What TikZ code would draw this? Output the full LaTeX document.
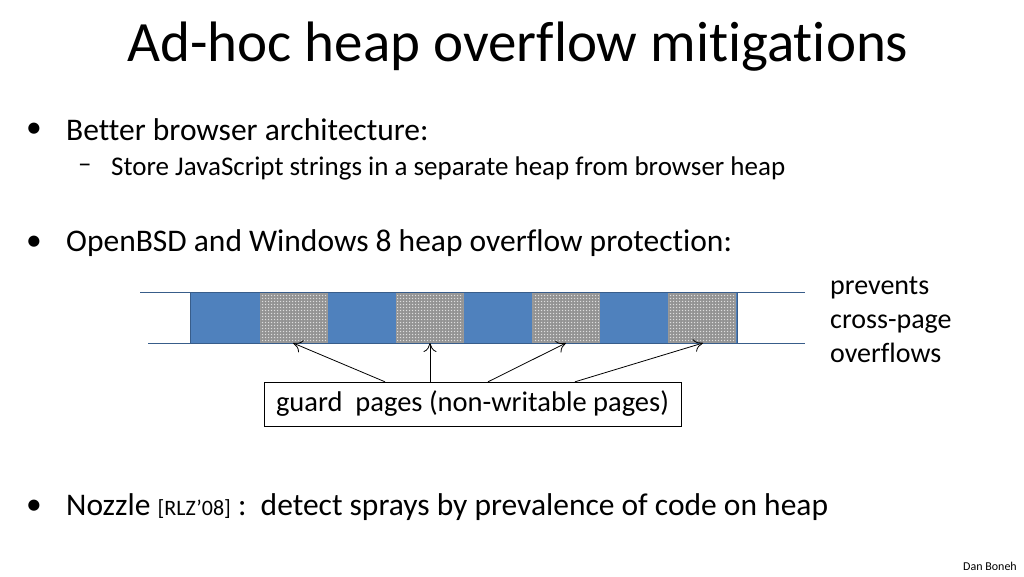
\documentclass[tikz,border=0pt]{standalone}
\usepackage{fontspec}
\setmainfont[RawFeature=-liga]{Carlito}
\usetikzlibrary{patterns,arrows.meta}
\definecolor{blk}{HTML}{4F81BD}
\definecolor{blkd}{HTML}{385D8A}
\begin{document}
\begin{tikzpicture}[x=1pt,y=-1pt,
  txt/.style={anchor=west,inner sep=0pt},
  arr/.style={-{To[length=9pt,width=13pt]},line width=0.8pt}]
\useasboundingbox (0,0) rectangle (1024,576);
\node[inner sep=0pt] (title) at (518,47) {\fontsize{57}{68}\selectfont Ad-hoc heap overflow mitigations};
\node[txt] (b1d) at (26,130) {\fontsize{31.5}{36}\selectfont •};
\node[txt] (b1) at (66,130) {\fontsize{31.5}{36}\selectfont Better browser architecture:};
\node[txt] (s1d) at (78,168) {\fontsize{27}{30}\selectfont –};
\node[txt] (s1) at (111,168) {\fontsize{27}{30}\selectfont Store JavaScript strings in a separate heap from browser heap};
\node[txt] (b2d) at (26,243) {\fontsize{31.5}{36}\selectfont •};
\node[txt] (b2) at (66,243) {\fontsize{31.5}{36}\selectfont OpenBSD and Windows 8 heap overflow protection:};
\node[txt] (b3d) at (26,507) {\fontsize{31.5}{36}\selectfont •};
\node[txt] (b3) at (66,507) {\fontsize{31.5}{36}\selectfont Nozzle {\fontsize{22}{25}\selectfont [RLZ’08]} :\ \ detect sprays by prevalence of code on heap};
\node[txt,align=left,font=\fontsize{28}{34}\selectfont] (prev) at (830,320) {prevents\\ cross-page\\ overflows};
\node[inner sep=0pt] (dan) at (990,566) {\fontsize{12}{14}\selectfont Dan Boneh};
% heap bar
\draw[blkd] (140,292) -- (805,292);
\draw[blkd] (148,343) -- (805,343);
\draw[blkd,fill=blk,line width=1pt] (190,292) rectangle (737,343);
\foreach \x/\n in {260/g1,396/g2,532/g3,668/g4}{
  \fill[gray!80] (\x,293) rectangle (\x+67,342);
  \fill[pattern=crosshatch dots,pattern color=white!85!gray] (\x,293) rectangle (\x+67,342);
  \fill[pattern=dots,pattern color=black!80] (\x,293) rectangle (\x+67,342);
  \draw[gray!80] (\x,293) rectangle (\x+67,342);
}
\coordinate (t1) at (293,343);
\coordinate (t2) at (430,343);
\coordinate (t3) at (566,343);
\coordinate (t4) at (703,343);
\node[draw,thin,minimum width=417pt,minimum height=44pt,inner sep=0pt] (box) at (472.5,404)
  {\fontsize{28.5}{32}\selectfont guard\ \ pages (non-writable pages)};
\draw[arr] ([xshift=-87.5pt]box.north) -- (t1);
\draw[arr] ([xshift=-42.5pt]box.north) -- (t2);
\draw[arr] ([xshift=15.5pt]box.north) -- (t3);
\draw[arr] ([xshift=102.5pt]box.north) -- (t4);
\end{tikzpicture}
\end{document}
